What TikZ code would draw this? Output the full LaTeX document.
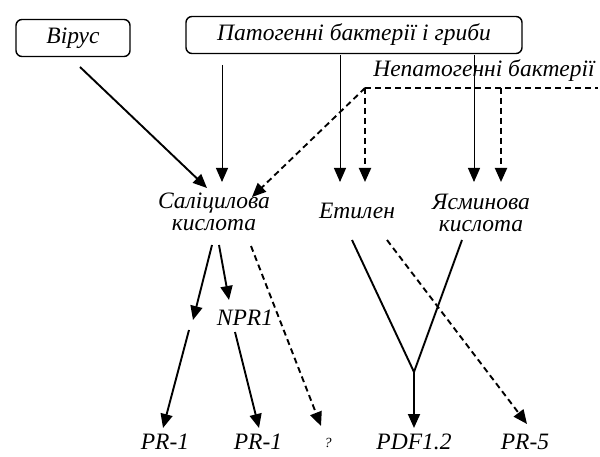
\documentclass[tikz,border=0pt]{standalone}
\usepackage{fontspec}
\setmainfont{Liberation Serif}
\usetikzlibrary{arrows.meta}
\begin{document}
\begin{tikzpicture}[x=1pt,y=-1pt,
  lbl/.style={font=\fontsize{23.5}{22}\selectfont\itshape, inner sep=1pt, align=center},
  box/.style={lbl, draw, line width=1.4pt, rounded corners=6pt, minimum height=37pt},
  arr/.style={line width=1.9pt, -{Triangle[length=14pt,width=12pt]}},
  thinarr/.style={line width=1pt, -{Triangle[length=14pt,width=12pt]}},
  darr/.style={line width=1.9pt, dash pattern=on 6pt off 4pt, -{Triangle[length=14pt,width=12pt]}},
  dline/.style={line width=1.7pt, dash pattern=on 6pt off 4pt},
  sline/.style={line width=1.9pt}]
\useasboundingbox (0,0) rectangle (600,457);
\node[box, minimum width=114pt] (virus) at (73,38) {Вірус};
\node[box, minimum width=336pt] (pat) at (354,35) {Патогенні бактерії і гриби};
\node[lbl] (nepat) at (484,71) {Непатогенні бактерії};
\node[lbl] (sa) at (214,212) {Саліцилова\\кислота};
\node[lbl] (eth) at (357,211) {Етилен};
\node[lbl] (ja) at (481,213) {Ясминова\\кислота};
\node[lbl] (npr) at (245,318) {NPR1};
\node[lbl] (pr1a) at (165,442) {PR-1};
\node[lbl] (pr1b) at (258,442) {PR-1};
\node[lbl, font=\fontsize{14}{14}\selectfont\itshape] (q) at (328,443) {?};
\node[lbl] (pdf) at (414,442) {PDF1.2};
\node[lbl] (pr5) at (525,442) {PR-5};
% coordinates
\coordinate (nbL) at (365,88);
\coordinate (nbR) at (598,88);
\coordinate (nbJ) at (501,88);
\coordinate (v0) at (80,67);
\coordinate (v1) at (207,188);
\coordinate (p1a) at (222,65);
\coordinate (p1b) at (222,182);
\coordinate (p2a) at (340,55);
\coordinate (p2b) at (340,182);
\coordinate (p3a) at (474,55);
\coordinate (p3b) at (474,182);
\coordinate (n2b) at (365,182);
\coordinate (n3b) at (501,182);
\coordinate (nd) at (252,197);
\coordinate (s1) at (212,245);
\coordinate (s1b) at (193,320);
\coordinate (s1c) at (189,330);
\coordinate (s2) at (219,245);
\coordinate (s2b) at (229,300);
\coordinate (s3) at (251,246);
\coordinate (n1) at (235,332);
\coordinate (e1) at (352,240);
\coordinate (e2) at (387,240);
\coordinate (j1) at (462,240);
\coordinate (y0) at (414,372);
\coordinate (pr1aT) at (163,428);
\coordinate (pr1bT) at (259,428);
\coordinate (qT) at (321,426);
\coordinate (pdfT) at (414,428);
\coordinate (pr5T) at (527,424);
% connectors
\draw[dline] (nbL) -- (nbR);
\draw[arr] (v0) -- (v1);
\draw[thinarr] (p1a) -- (p1b);
\draw[thinarr] (p2a) -- (p2b);
\draw[thinarr] (p3a) -- (p3b);
\draw[darr] (nbL) -- (n2b);
\draw[darr] (nbJ) -- (n3b);
\draw[darr] (nbL) -- (nd);
\draw[arr] (s1) -- (s1b);
\draw[arr] (s1c) -- (pr1aT);
\draw[arr] (s2) -- (s2b);
\draw[arr] (n1) -- (pr1bT);
\draw[darr] (s3) -- (qT);
\draw[sline] (e1) -- (y0) -- (j1);
\draw[arr] (y0) -- (pdfT);
\draw[darr] (e2) -- (pr5T);
\end{tikzpicture}
\end{document}
